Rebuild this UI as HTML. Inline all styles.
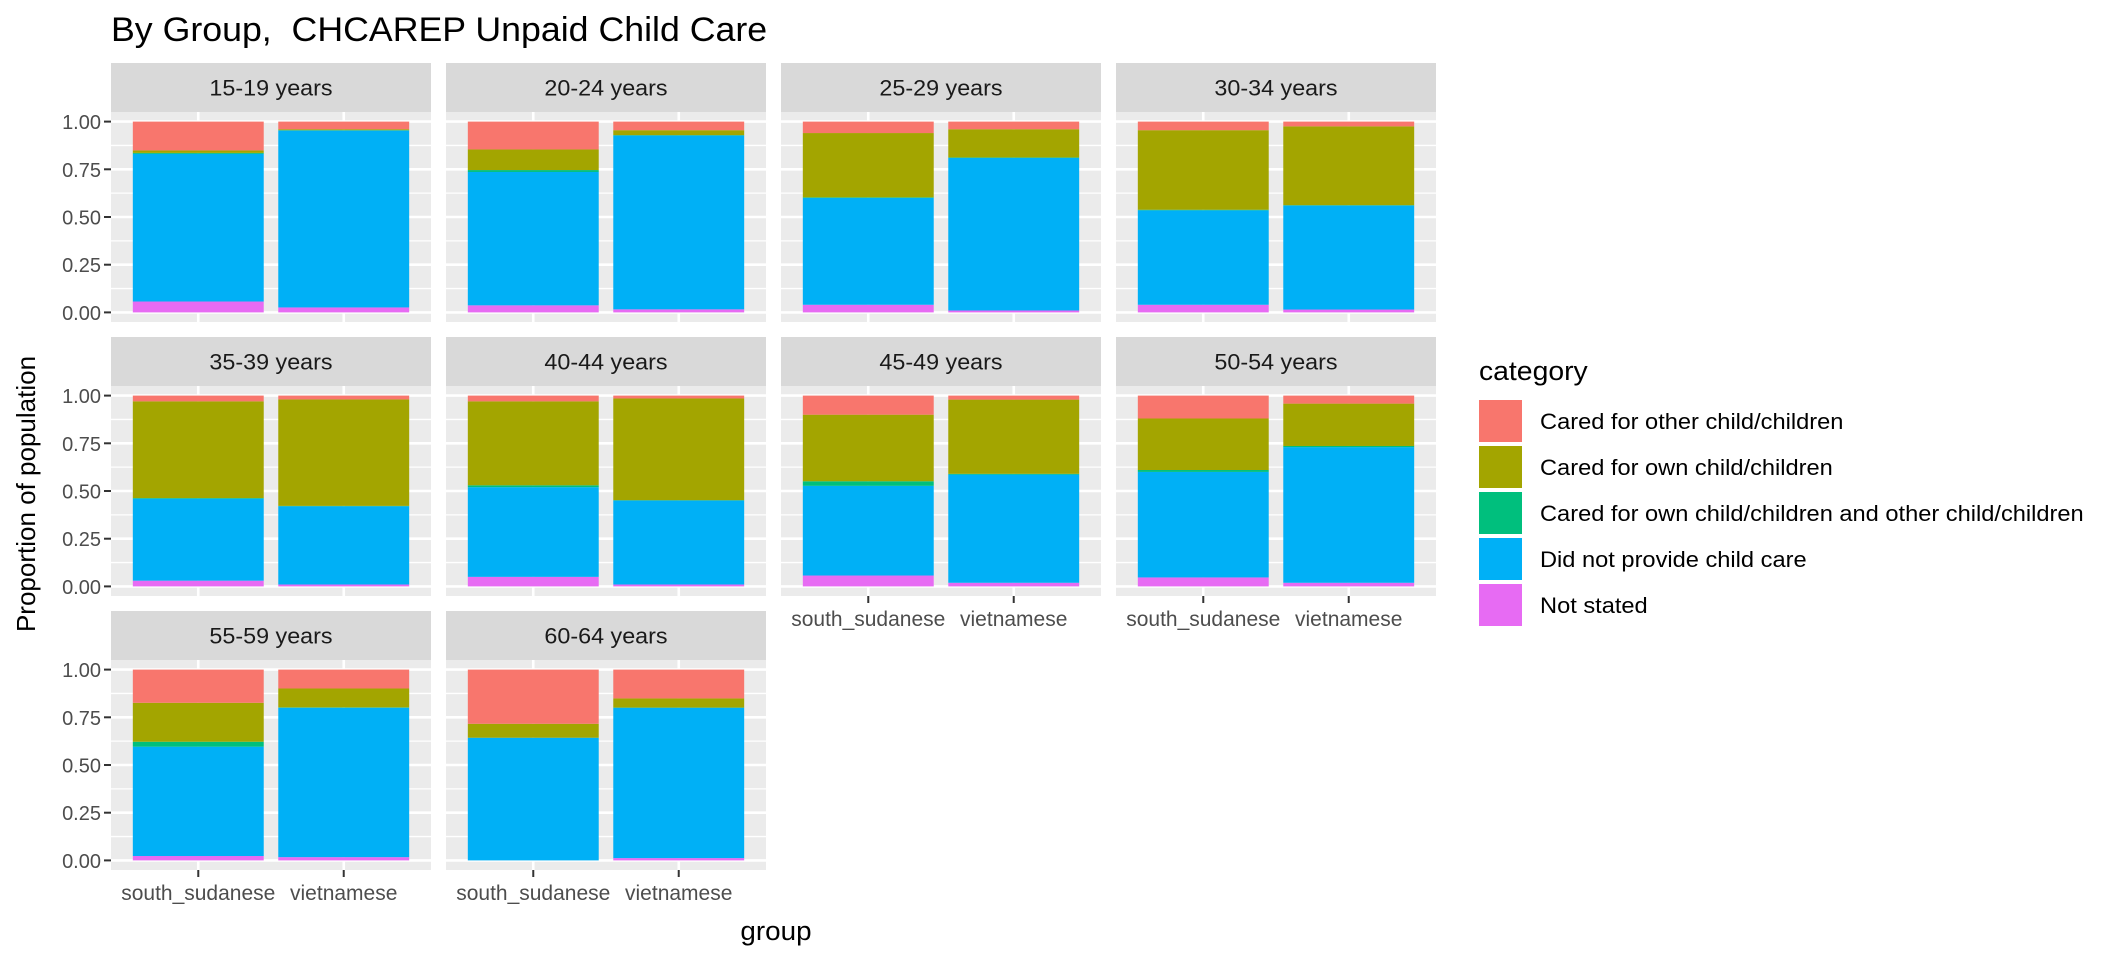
<!DOCTYPE html>
<html><head><meta charset="utf-8"><style>
body{margin:0;background:#fff;}
svg{display:block;font-family:"Liberation Sans",sans-serif;}
</style></head><body>
<svg id="chart" width="2112" height="960" viewBox="0 0 2112 960" xmlns="http://www.w3.org/2000/svg">
<rect width="2112" height="960" fill="#fff"/>
<text data-sx="1.05" x="111" y="41" font-size="34" fill="#000" xml:space="preserve">By Group,  CHCAREP Unpaid Child Care</text>
<text data-sx="1.0" transform="translate(35,494) rotate(-90)" text-anchor="middle" font-size="26" fill="#000">Proportion of population</text>
<text data-sx="1.03" x="776" y="940" text-anchor="middle" font-size="27" fill="#000">group</text>
<g id="panels"></g>
<g id="legend"></g>
</svg>
<script>
const facets = ["15-19 years","20-24 years","25-29 years","30-34 years","35-39 years","40-44 years","45-49 years","50-54 years","55-59 years","60-64 years"];
const groups = ["south_sudanese","vietnamese"];
const categories = ["Cared for other child/children","Cared for own child/children","Cared for own child/children and other child/children","Did not provide child care","Not stated"];
const colors = ["#F8766D","#A3A500","#00BF7D","#00B0F6","#E76BF3"];
const yTicks = [0,0.25,0.5,0.75,1];
const yTickLabels = ["0.00","0.25","0.50","0.75","1.00"];
// values per facet, [south_sudanese, vietnamese]
const notStated = [[.057,.026],[.037,.016],[.04,.01],[.04,.015],[.03,.01],[.05,.01],[.057,.019],[.047,.019],[.023,.017],[0,.012]];
const didNotProvide = [[.774,.927],[.699,.911],[.56,.80],[.495,.545],[.43,.41],[.47,.44],[.47,.567],[.553,.711],[.573,.783],[.643,.788]];
const caredBoth = [[.005,.002],[.010,.002],[.003,.002],[.003,.002],[.003,.002],[.01,.002],[.024,.004],[.01,.006],[.026,.002],[0,.001]];
const caredOwn = [[.013,.005],[.108,.026],[.337,.148],[.417,.413],[.507,.558],[.44,.533],[.349,.389],[.27,.222],[.204,.099],[.073,.048]];
const caredOther = [[.151,.04],[.146,.045],[.06,.04],[.045,.025],[.03,.02],[.03,.015],[.1,.021],[.12,.042],[.174,.099],[.284,.151]];

const NS="http://www.w3.org/2000/svg";
const panelsG=document.getElementById('panels');
function mk(tag,attrs,parent){const e=document.createElementNS(NS,tag);for(const k in attrs)e.setAttribute(k,attrs[k]);parent.appendChild(e);return e;}
const colX0=111, colStep=335, pw=320;
const rowY0=63, rowStep=274, stripH=49, ph=210;
const stackOrder=[notStated,didNotProvide,caredBoth,caredOwn,caredOther];
const stackColorIdx=[4,3,2,1,0];
facets.forEach((f,fi)=>{
  const col=fi%4,row=Math.floor(fi/4);
  const px=colX0+col*colStep, sy=rowY0+row*rowStep, py=sy+stripH;
  const yScale=v=>py+ph-9.6-v*(ph-19.2);
  const xScale=i=>px+(0.6+i)*(pw/2.2);
  const bw=0.9*(pw/2.2);
  const g=mk('g',{},panelsG);
  
  
  const strip=mk('rect',{x:px,y:sy,width:pw,height:stripH,fill:'#D9D9D9'},g);
  
  
  const st=mk('text',{x:px+pw/2,y:sy+stripH/2+8,'text-anchor':'middle','font-size':'22',fill:'#1A1A1A','data-sx':'1.06'},g);
  st.textContent=f;
  
  
  const bg=mk('rect',{x:px,y:py,width:pw,height:ph,fill:'#EBEBEB'},g);
  
  
  for(let k=0;k<yTicks.length-1;k++){const v=(yTicks[k]+yTicks[k+1])/2;const y=yScale(v);
    const l=mk('line',{x1:px,x2:px+pw,y1:y,y2:y,stroke:'#fff','stroke-width':1.3},g);
    
    }
  yTicks.forEach(v=>{const y=yScale(v);
    const l=mk('line',{x1:px,x2:px+pw,y1:y,y2:y,stroke:'#fff','stroke-width':2.6},g);
    
    });
  groups.forEach((gr,gi)=>{const x=xScale(gi);
    const l=mk('line',{x1:x,x2:x,y1:py,y2:py+ph,stroke:'#fff','stroke-width':2.6},g);
    
    });
  groups.forEach((gr,gi)=>{
    let cum=0;const x=xScale(gi)-bw/2;
    stackOrder.forEach((arr,si)=>{
      const v=arr[fi][gi];const y1=yScale(cum),y2=yScale(cum+v);cum+=v;
      const r=mk('rect',{x:x,y:y2,width:bw,height:Math.max(0,y1-y2),fill:colors[stackColorIdx[si]]},g);
      
      
    });
  });
  if(col===0){
    yTicks.forEach((v,k)=>{const y=yScale(v);
      mk('line',{x1:px-7,x2:px,y1:y,y2:y,stroke:'#333','stroke-width':2},g);
      const t=mk('text',{x:px-10,y:y+7.5,'text-anchor':'end','font-size':'20',fill:'#4D4D4D'},g);
      t.textContent=yTickLabels[k];
      
      });
  }
  const showX = row===2 || (row===1 && col>=2);
  if(showX){
    groups.forEach((gr,gi)=>{const x=xScale(gi);
      mk('line',{x1:x,x2:x,y1:py+ph,y2:py+ph+7,stroke:'#333','stroke-width':2},g);
      const t=mk('text',{x:x,y:py+ph+30,'text-anchor':'middle','font-size':'21',fill:'#4D4D4D','data-sx':'1.0'},g);
      t.textContent=gr;
      
      });
  }
});
const lg=document.getElementById('legend');


const lt=mk('text',{x:1479,y:380,'font-size':'27',fill:'#000','data-sx':'1.05'},lg);
lt.textContent='category';


categories.forEach((c,i)=>{
  const y=400+i*46;
  const k=mk('rect',{x:1479,y:y,width:43,height:42,fill:colors[i]},lg);
  
  
  const t=mk('text',{x:1540,y:y+29,'font-size':'22.5','fill':'#000','data-sx':'1.05'},lg);
  t.textContent=c;
  
  
});
document.querySelectorAll('text[data-sx]').forEach(t=>{
  const w=t.getComputedTextLength();
  t.setAttribute('textLength',(w*parseFloat(t.getAttribute('data-sx'))).toFixed(1));
  t.setAttribute('lengthAdjust','spacingAndGlyphs');
});
</script>
</body></html>
